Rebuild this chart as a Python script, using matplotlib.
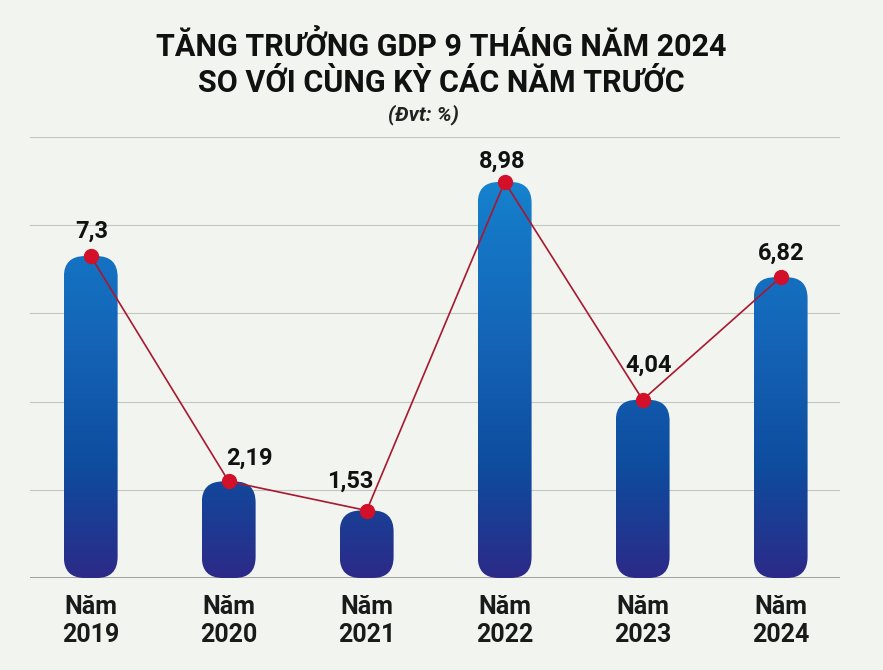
import numpy as np
import matplotlib
matplotlib.use("Agg")
import matplotlib.pyplot as plt
from matplotlib.patches import FancyBboxPatch
from matplotlib.colors import LinearSegmentedColormap

# ---- data ----
years = ["2019", "2020", "2021", "2022", "2023", "2024"]
values = [7.30, 2.19, 1.53, 8.98, 4.04, 6.82]
value_labels = ["7,3", "2,19", "1,53", "8,98", "4,04", "6,82"]
title_lines = ["TĂNG TRƯỞNG GDP 9 THÁNG NĂM 2024", "SO VỚI CÙNG KỲ CÁC NĂM TRƯỚC"]
unit_text = "(Đvt: %)"
x_prefix = "Năm"

# label offsets in pixels (style)
label_dx = [1, 21, -16, -2, 6, 1]
label_dy = [25, 23, 29, 21, 35, 24]

BG = "#f2f4ef"
FONT = ["Roboto", "DejaVu Sans"]
plt.rcParams["font.family"] = FONT

fig = plt.figure(figsize=(8.83, 6.70), dpi=100, facecolor=BG)
ax = fig.add_axes([30 / 883, 1 - 578 / 670, 810 / 883, 441 / 670])
ax.set_facecolor(BG)
ax.set_xlim(-0.44, 5.43)
ax.set_ylim(0, 10)

for s in ax.spines.values():
    s.set_visible(False)
ax.set_yticks([0, 2, 4, 6, 8, 10])
ax.yaxis.grid(True, color="#c4c6c2", linewidth=0.8)
ax.set_axisbelow(True)
ax.tick_params(axis="y", left=False, labelleft=False)
ax.axhline(0, color="#9a9c9a", linewidth=1.3, zorder=1)

x = np.arange(len(years))
ax.set_xticks(x)
ax.set_xticklabels([f"{x_prefix}\n{y}" for y in years], fontsize=18,
                   fontweight="bold", color="#1a1a1a", linespacing=1.25)
ax.tick_params(axis="x", length=0, pad=12)

# gradient bars
cmap = LinearSegmentedColormap.from_list(
    "g", [(0.0, "#2c2a88"), (0.25, "#0e4c9e"), (0.55, "#1565b8"),
          (0.8, "#1478c6"), (1.0, "#1a8ed8")])
grad = np.linspace(0, 1, 256).reshape(-1, 1)

fig.canvas.draw()
px_per_x = ax.transData.transform((1, 0))[0] - ax.transData.transform((0, 0))[0]
px_per_y = ax.transData.transform((0, 1))[1] - ax.transData.transform((0, 0))[1]
aspect = px_per_x / px_per_y

width = 0.39
rad_px = 21
for xi, v in zip(x, values):
    r = rad_px / px_per_x
    patch = FancyBboxPatch((xi - width / 2, 0), width, v,
                           boxstyle=f"round,pad=0,rounding_size={r}",
                           mutation_aspect=aspect, linewidth=0,
                           facecolor="none", zorder=2)
    ax.add_patch(patch)
    im = ax.imshow(grad, extent=(xi - width / 2, xi + width / 2, 0, 10),
                   origin="lower", cmap=cmap, aspect="auto", zorder=2,
                   interpolation="bilinear")
    im.set_clip_path(patch)

ax.set_xlim(-0.44, 5.43)
ax.set_ylim(0, 10)

ax.plot(x, values, color="#a8182e", linewidth=1.2, zorder=3)
ax.plot(x, values, "o", color="#d2102a", markersize=10, zorder=4)

for xi, v, lab, dx, dy in zip(x, values, value_labels, label_dx, label_dy):
    ax.annotate(lab, (xi, v), xytext=(dx * 0.72, dy * 0.72),
                textcoords="offset points", ha="center", va="center",
                fontsize=17, fontweight="bold", color="#111111", zorder=5)

fig.text(0.5, 1 - 46 / 670, title_lines[0], ha="center", va="center",
         fontsize=22, fontweight="bold", color="#111111")
fig.text(0.5, 1 - 83 / 670, title_lines[1], ha="center", va="center",
         fontsize=22, fontweight="bold", color="#111111")
fig.text(423 / 883, 1 - 115 / 670, unit_text, ha="center", va="center",
         fontsize=15, fontweight="bold", fontstyle="italic", color="#222222")

fig.savefig("out.png", dpi=100, facecolor=BG)
